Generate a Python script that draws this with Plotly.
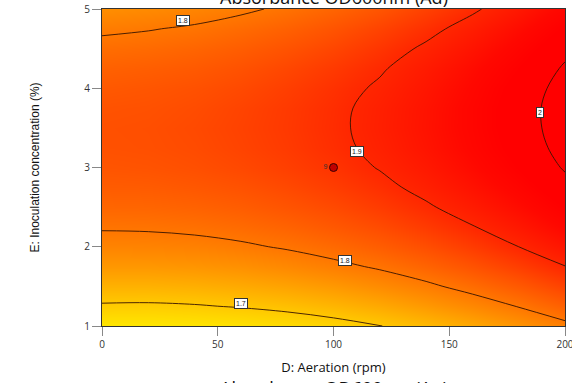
import plotly.graph_objects as go

# Response surface grid: aeration (rpm) x inoculation concentration (%)
aeration = [0, 20, 40, 60, 80, 100, 120, 140, 160, 180, 200]
inoculation = [1.0, 1.25, 1.5, 1.75, 2.0, 2.25, 2.5, 2.75, 3.0,
               3.25, 3.5, 3.75, 4.0, 4.25, 4.5, 4.75, 5.0]
absorbance = [
    [1.657, 1.657, 1.659, 1.664, 1.673, 1.684, 1.699, 1.717, 1.738, 1.762, 1.789],
    [1.695, 1.694, 1.697, 1.703, 1.711, 1.723, 1.738, 1.757, 1.778, 1.802, 1.830],
    [1.728, 1.728, 1.731, 1.737, 1.746, 1.758, 1.774, 1.792, 1.814, 1.839, 1.867],
    [1.758, 1.758, 1.761, 1.767, 1.777, 1.790, 1.805, 1.824, 1.846, 1.871, 1.899],
    [1.783, 1.784, 1.787, 1.794, 1.804, 1.817, 1.833, 1.852, 1.874, 1.900, 1.928],
    [1.804, 1.805, 1.809, 1.816, 1.826, 1.840, 1.856, 1.876, 1.898, 1.924, 1.953],
    [1.822, 1.823, 1.827, 1.834, 1.845, 1.858, 1.875, 1.895, 1.918, 1.944, 1.973],
    [1.835, 1.836, 1.841, 1.848, 1.859, 1.873, 1.890, 1.911, 1.934, 1.960, 1.990],
    [1.844, 1.846, 1.851, 1.859, 1.870, 1.884, 1.902, 1.922, 1.946, 1.973, 2.003],
    [1.849, 1.851, 1.856, 1.865, 1.876, 1.891, 1.909, 1.930, 1.954, 1.981, 2.011],
    [1.850, 1.852, 1.858, 1.867, 1.878, 1.893, 1.912, 1.933, 1.957, 1.985, 2.015],
    [1.847, 1.849, 1.855, 1.865, 1.877, 1.892, 1.911, 1.932, 1.957, 1.985, 2.016],
    [1.839, 1.843, 1.849, 1.858, 1.871, 1.887, 1.905, 1.927, 1.952, 1.981, 2.012],
    [1.828, 1.832, 1.838, 1.848, 1.861, 1.877, 1.896, 1.919, 1.944, 1.972, 2.004],
    [1.813, 1.817, 1.824, 1.834, 1.847, 1.863, 1.883, 1.906, 1.931, 1.960, 1.992],
    [1.793, 1.798, 1.805, 1.816, 1.829, 1.846, 1.866, 1.889, 1.915, 1.944, 1.976],
    [1.770, 1.775, 1.782, 1.793, 1.807, 1.824, 1.844, 1.868, 1.894, 1.924, 1.956],
]

# Contour levels and where each level's tag sits on its line
levels = [1.7, 1.8, 1.9, 2.0]
tag_levels = [1.8, 1.9, 2.0, 1.8, 1.7]
tag_aeration = [35, 110, 189, 105, 60]
tag_inoculation = [4.86, 3.20, 3.70, 1.83, 1.28]

# Design centre point and its replicate count
center_aeration = [100]
center_inoculation = [3]
center_runs = ["9"]

x_ticks = [0, 50, 100, 150, 200]
y_ticks = [1, 2, 3, 4, 5]

colorscale = [
    [0.000, "#FFE800"],
    [0.125, "#FFC800"],
    [0.319, "#FF8E00"],
    [0.540, "#FF5000"],
    [0.679, "#FF2600"],
    [0.817, "#FF0800"],
    [0.880, "#FF0000"],
    [1.000, "#FF0000"],
]

fig = go.Figure()

fig.add_trace(go.Contour(
    x=aeration,
    y=inoculation,
    z=absorbance,
    colorscale=colorscale,
    zmin=1.655,
    zmax=2.016,
    autocontour=False,
    contours=dict(start=levels[0], end=levels[-1] + 1e-4, size=0.1,
                  coloring="heatmap", showlabels=False),
    line=dict(color="rgba(55,20,0,0.9)", width=1, smoothing=1.0),
    showscale=False,
    hoverinfo="skip",
))

fig.add_trace(go.Scatter(
    x=center_aeration,
    y=center_inoculation,
    mode="markers+text",
    marker=dict(size=8, color="#C00000", line=dict(color="#3a0000", width=1)),
    text=center_runs,
    textposition="middle left",
    textfont=dict(size=7, color="#333333", family="Liberation Sans"),
    showlegend=False,
    hoverinfo="skip",
))

for lv, xa, ya in zip(tag_levels, tag_aeration, tag_inoculation):
    fig.add_annotation(
        x=xa, y=ya, xref="x", yref="y",
        text=f"{lv:g}", showarrow=False,
        font=dict(size=7, color="#222222", family="Liberation Sans"),
        bgcolor="white", bordercolor="#333333", borderwidth=1, borderpad=1,
    )

fig.add_annotation(
    x=0.5, y=1, xref="paper", yref="paper", yanchor="bottom", yshift=-2,
    text="Absorbance OD600nm (Ad)", showarrow=False,
    font=dict(size=18, color="#111111", family="Open Sans"),
)
fig.add_annotation(
    x=0.5, y=0, xref="paper", yref="paper", yanchor="top", yshift=-48,
    text="Absorbance OD600nm (Au)", showarrow=False,
    font=dict(size=18, color="#111111", family="Open Sans"),
)

axis_common = dict(
    showgrid=False, zeroline=False, ticks="outside", ticklen=9,
    tickcolor="#888888", tickwidth=1, showline=True, linecolor="#333333",
    linewidth=1, mirror=True, ticklabeloverflow="allow", automargin=False,
    tickfont=dict(size=10, color="#333333", family="Open Sans"),
)

fig.update_layout(
    width=572, height=383,
    margin=dict(l=102, r=7, t=9, b=57, autoexpand=False),
    paper_bgcolor="white", plot_bgcolor="white",
    showlegend=False,
    xaxis=dict(range=[0, 200], tickvals=x_ticks,
               title=dict(text="D: Aeration (rpm)", standoff=12,
                          font=dict(size=13, color="#111111", family="Open Sans")),
               **axis_common),
    yaxis=dict(range=[1, 5], tickvals=y_ticks,
               title=dict(text="E: Inoculation concentration (%)", standoff=42,
                          font=dict(size=12, color="#111111", family="Liberation Sans")),
               **axis_common),
)

fig.write_html("out.html")
